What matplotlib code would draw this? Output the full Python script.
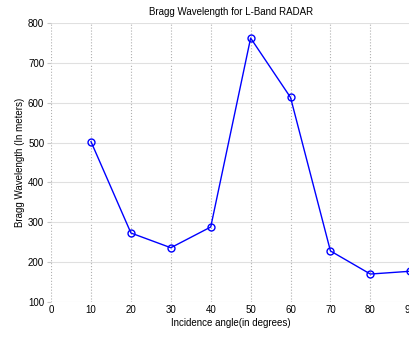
import numpy as np
import matplotlib.pyplot as plt

plt.rcParams['font.family'] = 'Liberation Sans'

angulo = [10, 20, 30, 40, 50, 60, 70, 80, 90]
bragg = [502, 273, 236, 288, 762, 613, 228, 170, 177]

fig = plt.figure(figsize=(4.09, 3.37), dpi=100)
ax = fig.add_axes([0.125, 0.104, 0.878, 0.828])

ax.plot(angulo, bragg, color='#0000ff', lw=1.0, marker='o', ms=5,
        mfc='none', mec='#0000ff', mew=1.0, clip_on=False)

ax.set_xlim(0, 90)
ax.set_ylim(100, 800)
ax.set_xticks(np.arange(0, 100, 10))
ax.set_yticks(np.arange(100, 900, 100))
ax.tick_params(labelsize=7, length=3, color='#c8c8c8', pad=2)
ax.tick_params(axis='x', length=0)

ax.xaxis.grid(True, color='#b0b0b0', ls=':', lw=0.8)
ax.yaxis.grid(True, color='#e0e0e0', ls='-', lw=0.8)
for s in ax.spines.values():
    s.set_visible(False)

ax.set_title('Bragg Wavelength for L-Band RADAR', fontsize=7, pad=6)
ax.set_xlabel('Incidence angle(in degrees)', fontsize=7, labelpad=2)
ax.set_ylabel('Bragg Wavelength (In meters)', fontsize=7, labelpad=2)

fig.savefig('out.png', dpi=100)
